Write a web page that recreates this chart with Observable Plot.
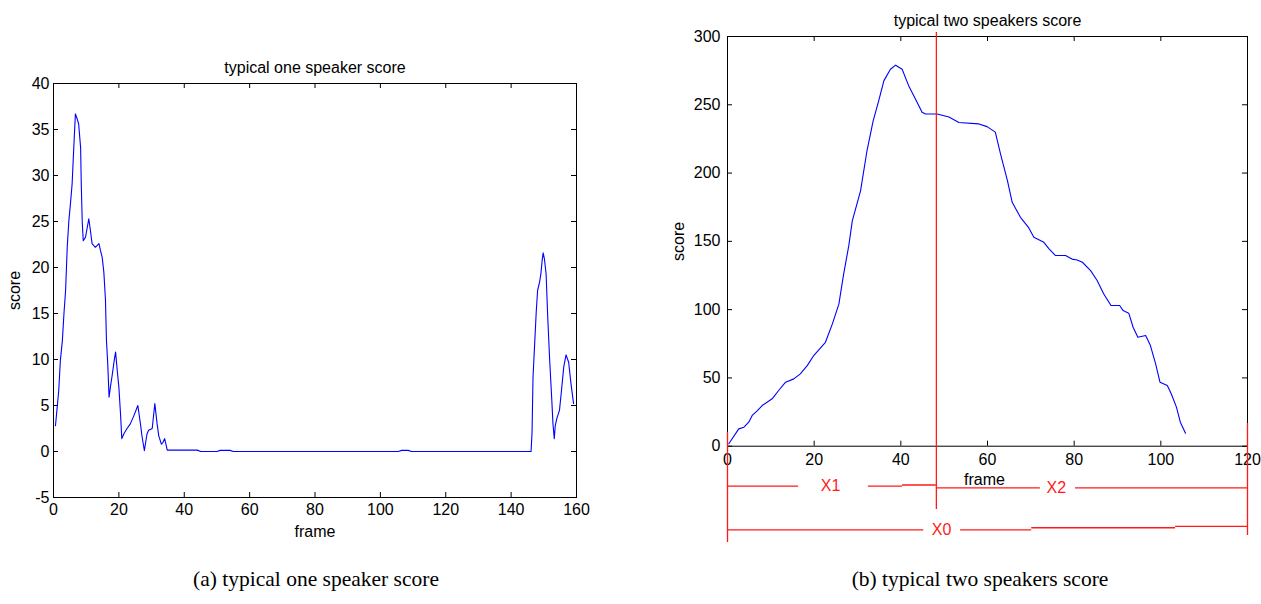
<!DOCTYPE html>
<html>
<head>
<meta charset="utf-8">
<script src="https://cdn.jsdelivr.net/npm/d3@7"></script>
<script src="https://cdn.jsdelivr.net/npm/@observablehq/plot@0.6"></script>
<style>
  body { margin: 0; background: #fff; }
  #page { position: relative; width: 1261px; height: 604px; overflow: hidden; background: #fff; }
  .panel { position: absolute; top: 0; }
  .caption {
    position: absolute; white-space: nowrap; transform: translateX(-50%);
    font-family: "Liberation Serif", "Times New Roman", serif; font-size: 21.5px; color: #000;
  }
</style>
</head>
<body>
<div id="page">
  <div id="one" class="panel" style="left:0px"></div>
  <div id="two" class="panel" style="left:620px"></div>
  <div class="caption" style="left:316px; top:567px">(a) typical one speaker score</div>
  <div class="caption" style="left:980px; top:567px">(b) typical two speakers score</div>
</div>
<script>
// ---- (a) one speaker: score per frame ----
const oneFrames = [0.6, 1.6, 2.1, 2.7, 3.2, 3.7, 4.2, 4.7, 5.2, 5.7, 6.2, 6.7, 7.2, 7.7, 8.3, 8.5, 8.8, 9.1, 9.8, 10.8,
  11.3, 11.8, 12.8, 13.9, 14.4, 14.9, 15.4, 15.9, 16.2, 16.6, 17.0, 17.4, 18.0, 18.7, 19.0, 19.5, 20.0, 20.5, 20.9, 21.5,
  22.5, 23.5, 24.6, 25.8, 26.6, 27.1, 27.8, 28.6, 29.1, 30.2, 31.0, 31.7, 32.2, 33.0, 33.5, 34.0, 34.8, 44, 45, 50,
  51, 54, 55, 105.5, 106.5, 108.5, 109.5, 146.1, 146.4, 146.7, 147.2, 147.7, 148.1, 148.7, 149.1, 149.5, 149.8, 150.2, 150.7, 151.2,
  151.8, 152.4, 152.8, 153.2, 153.5, 154.0, 154.8, 155.4, 156.1, 156.8, 157.6, 158.3, 159.1];
const oneScores = [2.8, 6.6, 9.9, 12.0, 15.0, 17.5, 22.2, 25.1, 27.0, 29.1, 33.0, 36.7, 36.2, 35.6, 33.0, 29.0, 24.9, 22.9, 23.3, 25.3,
  24.0, 22.6, 22.2, 22.6, 21.8, 21.1, 19.5, 16.5, 12.1, 9.5, 5.9, 7.0, 8.4, 10.2, 10.8, 8.8, 7.0, 4.1, 1.4, 1.9,
  2.5, 3.0, 3.9, 5.0, 3.0, 1.6, 0.1, 1.9, 2.3, 2.5, 5.2, 3.0, 1.7, 0.8, 1.0, 1.4, 0.15, 0.15, 0, 0,
  0.12, 0.12, 0, 0, 0.12, 0.12, 0, 0, 2.1, 8.1, 11.7, 15.3, 17.5, 18.4, 19.3, 20.8, 21.6, 20.9, 19.3, 14.6,
  9.9, 5.9, 3.0, 1.4, 2.8, 3.6, 4.5, 6.6, 9.2, 10.5, 9.7, 7.4, 5.2];
const oneXTicks = [0, 20, 40, 60, 80, 100, 120, 140, 160];
const oneYTicks = [-5, 0, 5, 10, 15, 20, 25, 30, 35, 40];

// ---- (b) two speakers: score per frame ----
const twoFrames = [0.3, 2.6, 3.8, 4.9, 5.7, 6.9, 8.0, 10.3, 11.8, 13.4, 15.3, 16.8, 18.4, 19.9, 22.6, 24.2, 25.7, 26.8, 28.0, 28.8,
  30.7, 32.2, 33.6, 34.9, 36.1, 37.6, 38.8, 40.3, 41.8, 43.4, 44.9, 45.7, 48.4, 51.1, 53.4, 58.0, 59.9, 61.8, 63.0, 64.6,
  65.7, 67.6, 69.5, 70.7, 73.0, 74.2, 75.7, 78.0, 79.5, 80.7, 81.9, 83.8, 85.3, 86.8, 88.5, 90.5, 91.3, 92.6, 93.6, 94.7,
  96.5, 97.6, 98.8, 99.8, 101.5, 102.4, 103.6, 104.5, 105.7];
const twoScores = [1.8, 12.7, 13.9, 17.6, 22.5, 26.1, 29.8, 34.7, 40.8, 46.9, 49.3, 53.0, 59.0, 66.4, 76.1, 89.6, 104, 126, 147, 165,
  187, 216.5, 238, 253, 267.7, 276, 279, 276, 264, 254, 244.5, 243.3, 243.3, 241, 237, 236, 234, 230, 214, 194.5,
  178.6, 167.6, 160, 153, 149.3, 144.5, 139.6, 139.6, 137, 136.4, 134.7, 128.6, 121.3, 111.6, 103, 103, 99.3, 97.4, 87.1, 79.8,
  81, 73.7, 60.3, 46.9, 44.4, 38.4, 28.6, 17.6, 9.5];
const twoXTicks = [0, 20, 40, 60, 80, 100, 120];
const twoYTicks = [0, 50, 100, 150, 200, 250, 300];

// Segment markers below the (b) axis: boundary frames and the X1 / X2 / X0 spans
const boundFrames = [0, 48.2, 120];
const boundTops = [10, 303, 16.6];
const boundBottoms = [-70.5, -46.3, -65.4];
const spanNames = ["X1", "X1", "X1", "X2", "X2", "X0", "X0", "X0", "X0"];
const spanStarts = [0, 32.5, 40.4, 48.2, 80.3, 0, 53.8, 70.2, 103.4];
const spanEnds = [16.4, 40.4, 48.2, 72.2, 120, 45.3, 70.2, 103.4, 120];
const spanLevels = [-29.3, -29.3, -28.4, -30.5, -30.5, -61.2, -61.2, -59.7, -58.7];
const labelNames = ["X1", "X2", "X0"];
const labelFrames = [23.8, 75.9, 49.4];
const labelLevels = [-29.3, -30.5, -61.2];

const zip = (fs, ss) => fs.map((frame, i) => ({frame, score: ss[i]}));

const baseStyle = {
  fontFamily: "'Liberation Sans', Arial, Helvetica, sans-serif",
  fontSize: "16px",
  color: "#000",
  background: "transparent",
  overflow: "visible"
};

// plain hyphen for negatives, as the axis labels read "-5"
const plainFormat = d => String(d);

function scorePanel({width, height, margin, xDomain, yDomain, xTicks, yTicks, data, title, padX, padY, labelDx, extra = []}) {
  const innerH = height - margin.top - margin.bottom;
  const innerW = width - margin.left - margin.right;
  const tick = 5;
  return Plot.plot({
    width, height,
    marginTop: margin.top, marginRight: margin.right, marginBottom: margin.bottom, marginLeft: margin.left,
    style: baseStyle,
    x: {domain: xDomain},
    y: {domain: yDomain},
    marks: [
      Plot.frame({stroke: "#000", strokeWidth: 1}),
      // inward ticks on all four sides
      Plot.tickX(xTicks, {x: d => d, insetTop: innerH - tick, stroke: "#000"}),
      Plot.tickX(xTicks, {x: d => d, insetBottom: innerH - tick, stroke: "#000"}),
      Plot.tickY(yTicks, {y: d => d, insetRight: innerW - tick, stroke: "#000"}),
      Plot.tickY(yTicks, {y: d => d, insetLeft: innerW - tick, stroke: "#000"}),
      Plot.axisX(xTicks, {anchor: "bottom", tickSize: 0, tickPadding: padX, label: null, tickFormat: plainFormat}),
      Plot.axisY(yTicks, {anchor: "left", tickSize: 0, tickPadding: padY, label: null, tickFormat: plainFormat}),
      Plot.line(data, {x: "frame", y: "score", stroke: "#0000ff", strokeWidth: 1.1}),
      Plot.text([title], {text: d => d, frameAnchor: "top", dy: -16, lineAnchor: "middle"}),
      Plot.text(["frame"], {text: d => d, frameAnchor: "bottom", dy: 34, dx: labelDx.frame, lineAnchor: "middle"}),
      Plot.text(["score"], {text: d => d, frameAnchor: "left", dx: labelDx.score, rotate: -90, textAnchor: "middle", lineAnchor: "middle"}),
      ...extra
    ]
  });
}

const red = "#ff1a1a";
const bounds = boundFrames.map((x, i) => ({x, y1: boundTops[i], y2: boundBottoms[i]}));
const spans = spanNames.map((name, i) => ({name, x1: spanStarts[i], x2: spanEnds[i], y: spanLevels[i]}));
const spanLabels = labelNames.map((name, i) => ({name, x: labelFrames[i], y: labelLevels[i]}));

document.getElementById("one").append(scorePanel({
  width: 600, height: 560,
  margin: {top: 83, right: 24, bottom: 63, left: 53},
  xDomain: [0, 160], yDomain: [-5, 40],
  xTicks: oneXTicks, yTicks: oneYTicks,
  data: zip(oneFrames, oneScores),
  title: "typical one speaker score",
  padX: 6, padY: 4,
  labelDx: {frame: 0, score: -39}
}));

document.getElementById("two").append(scorePanel({
  width: 641, height: 560,
  margin: {top: 36, right: 14, bottom: 114.3, left: 107},
  xDomain: [0, 120], yDomain: [0, 300],
  xTicks: twoXTicks, yTicks: twoYTicks,
  data: zip(twoFrames, twoScores),
  title: "typical two speakers score",
  padX: 7, padY: 7,
  labelDx: {frame: -3, score: -49},
  extra: [
    Plot.ruleX(bounds, {x: "x", y1: "y1", y2: "y2", stroke: red, strokeWidth: 1.3}),
    Plot.ruleY(spans, {y: "y", x1: "x1", x2: "x2", stroke: red, strokeWidth: 1.3}),
    Plot.text(spanLabels, {x: "x", y: "y", text: "name", fill: red, fontSize: 16, lineAnchor: "middle"})
  ]
}));
</script>
</body>
</html>
